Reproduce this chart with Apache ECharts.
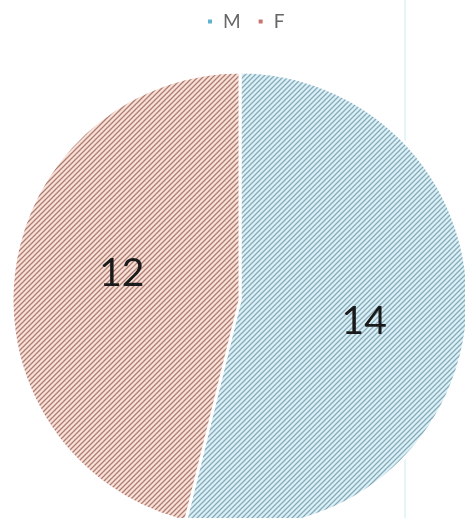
<!DOCTYPE html>
<html>
<head>
<meta charset="utf-8">
<script src="https://cdn.jsdelivr.net/npm/echarts@6/dist/echarts.min.js"></script>
<style>
  html, body { margin: 0; padding: 0; background: #fff; }
  #chart { width: 465px; height: 518px; }
</style>
</head>
<body>
<div id="chart"></div>
<script>
var categories = ['M', 'F']
var values = [14, 12]
var solidColors = ['#5fb3cc', '#c9736d']
var hatchColors = [
  { bg: '#dcf1f7', line: '#86aab8' },
  { bg: '#fae1d8', line: '#ad7d73' }
]

// diagonal hatching tile
function hatch(bg, line) {
  var s = 5
  var c = document.createElement('canvas')
  c.width = s
  c.height = s
  var ctx = c.getContext('2d')
  ctx.fillStyle = bg
  ctx.fillRect(0, 0, s, s)
  ctx.strokeStyle = line
  ctx.lineWidth = 1.3
  ctx.beginPath()
  ctx.moveTo(0, s); ctx.lineTo(s, 0)
  ctx.moveTo(-1, 1); ctx.lineTo(1, -1)
  ctx.moveTo(s - 1, s + 1); ctx.lineTo(s + 1, s - 1)
  ctx.stroke()
  return { image: c, repeat: 'repeat' }
}

var labelOffsets = [[8, 7], [-2, -12]]

var chart = echarts.init(document.getElementById('chart'))
chart.setOption({
  animation: false,
  legend: {
    top: 7,
    left: 201,
    itemWidth: 6,
    itemHeight: 6,
    itemGap: 16,
    icon: 'rect',
    textStyle: { color: '#666', fontSize: 19, fontFamily: 'Lato', padding: [0, 0, 0, 5] },
    data: categories.map(function (n, i) {
      return { name: n, itemStyle: { color: solidColors[i] } }
    })
  },
  graphic: [{
    type: 'line',
    shape: { x1: 405, y1: 0, x2: 405, y2: 518 },
    style: { stroke: '#e6f5f7', lineWidth: 2 },
    z: -1
  }],
  series: [{
    type: 'pie',
    center: [240, 300],
    radius: [0, 228],
    startAngle: 90,
    clockwise: true,
    label: {
      show: true,
      position: 'inside',
      formatter: '{c}',
      fontSize: 39,
      fontFamily: 'Lato',
      color: '#1a1a1a'
    },
    labelLine: { show: false },
    itemStyle: { borderColor: '#fff', borderWidth: 3 },
    emphasis: { disabled: true },
    data: categories.map(function (n, i) {
      return {
        name: n,
        value: values[i],
        itemStyle: { color: hatch(hatchColors[i].bg, hatchColors[i].line) },
        label: { offset: labelOffsets[i] }
      }
    })
  }]
})
</script>
</body>
</html>
